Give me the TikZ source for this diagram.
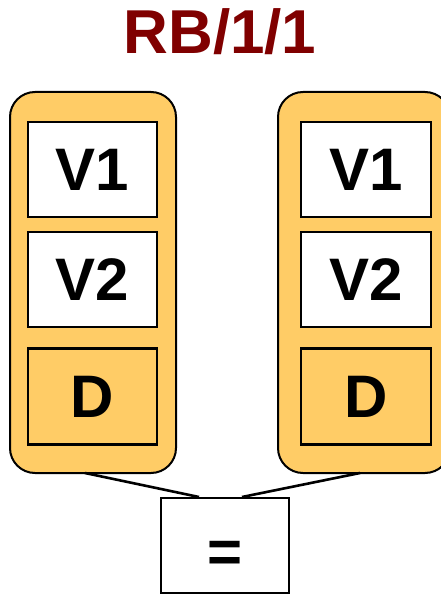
\documentclass[tikz,border=0pt]{standalone}
\usepackage{fontspec}
\setmainfont{Liberation Sans}
\definecolor{boxorange}{HTML}{FFCC66}
\definecolor{titlered}{HTML}{800000}
\begin{document}
\begin{tikzpicture}[x=1pt,y=-1pt,
  container/.style={draw=black, line width=2pt, fill=boxorange, rounded corners=25pt, inner sep=0pt},
  cell/.style={draw=black, line width=2.2pt, fill=white, minimum width=129pt, minimum height=95pt, inner sep=0pt, font=\fontsize{60}{60}\selectfont\bfseries},
  cellD/.style={cell, fill=boxorange},
  link/.style={draw=black, line width=2.6pt}]
\useasboundingbox (0,0) rectangle (440,596);
\node[anchor=base, text=titlered, font=\fontsize{62}{62}\selectfont\bfseries] (title) at (220,54) {RB/1/1};
% containers
\node[container, minimum width=166pt, minimum height=381pt] (lc) at (93,282.5) {};
\node[container, minimum width=172pt, minimum height=381pt] (rc) at (364,282.5) {};
% left cells
\node[cell] (lv1) at (92.5,169.5) {V1};
\node[cell] (lv2) at (92.5,279.5) {V2};
\node[cellD, minimum height=96pt] (ld) at (92.5,396.5) {D};
% right cells
\node[cell, minimum width=130pt] (rv1) at (366,169.5) {V1};
\node[cell, minimum width=130pt] (rv2) at (366,279.5) {V2};
\node[cellD, minimum width=130pt, minimum height=96pt] (rd) at (366,396.5) {D};
% equality box
\node[cell, minimum width=128pt, line width=2.6pt] (eq) at (225,545.5) {\raisebox{-26.5pt}[0pt][0pt]{=}};
\coordinate (la) at (85,473);
\coordinate (lb) at (199,497);
\coordinate (ra) at (360,473);
\coordinate (rb) at (242,497);
\draw[link] (la) -- (lb);
\draw[link] (ra) -- (rb);
\end{tikzpicture}
\end{document}
